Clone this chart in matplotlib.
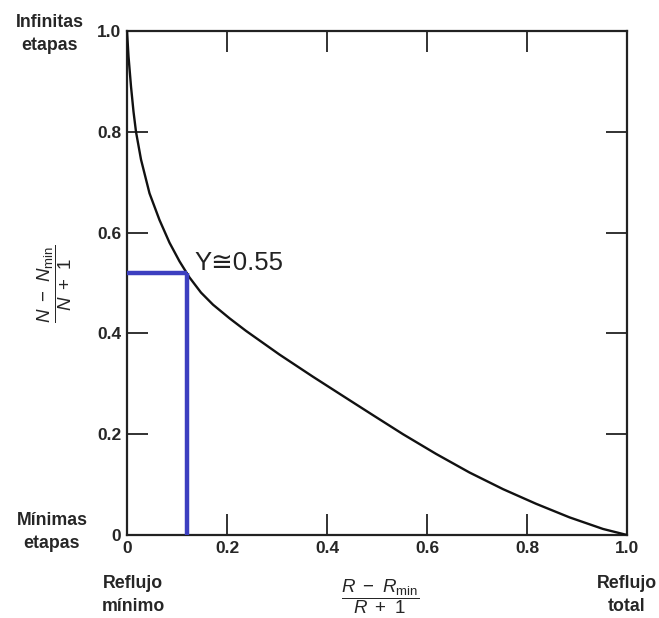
import matplotlib
matplotlib.use("Agg")
import matplotlib.pyplot as plt

plt.rcParams['font.family'] = ['Liberation Sans', 'DejaVu Sans']
plt.rcParams['mathtext.fontset'] = 'custom'
plt.rcParams['mathtext.rm'] = 'Liberation Sans'
plt.rcParams['mathtext.it'] = 'Liberation Sans:italic'

# curve: X = (R-Rmin)/(R+1), Y = (N-Nmin)/(N+1)
curve_x = [0.0, 0.003, 0.008, 0.013, 0.018, 0.028, 0.045, 0.065, 0.085, 0.105,
           0.125, 0.148, 0.172, 0.205, 0.238, 0.305, 0.372, 0.438, 0.49, 0.552,
           0.618, 0.685, 0.752, 0.818, 0.885, 0.952, 1.0]
curve_y = [1.0, 0.95, 0.89, 0.84, 0.80, 0.745, 0.678, 0.625, 0.58, 0.543,
           0.511, 0.481, 0.457, 0.430, 0.405, 0.358, 0.314, 0.272, 0.239, 0.200,
           0.161, 0.124, 0.091, 0.062, 0.035, 0.012, 0.0]

# operating point marked in blue
mark_x = 0.12
mark_y = 0.52
mark_text = "Y\u22450.55"

ticks = [0, 0.2, 0.4, 0.6, 0.8, 1.0]
tick_labels = ["0", "0.2", "0.4", "0.6", "0.8", "1.0"]

txt = '#262626'
blue = '#3c3fc0'

fig = plt.figure(figsize=(6.59, 6.18), dpi=100)
ax = fig.add_axes([127/659, 1 - 535/618, 500/659, 504/618])

ax.plot(curve_x, curve_y, color='#111111', lw=1.7, zorder=3,
        solid_joinstyle='round')
ax.plot([0, mark_x], [mark_y, mark_y], color=blue, lw=3.2, solid_capstyle='butt', zorder=4)
ax.plot([mark_x, mark_x], [0, mark_y], color=blue, lw=3.2, solid_capstyle='butt', zorder=4)
ax.text(mark_x + 0.014, mark_y + 0.02, mark_text, fontsize=18.5, color='#222222',
        ha='left', va='center', family=['Liberation Sans', 'DejaVu Sans'])

ax.set_xlim(0, 1)
ax.set_ylim(0, 1)
ax.set_xticks(ticks)
ax.set_yticks(ticks)
ax.set_xticklabels(tick_labels, fontsize=12.5, fontweight='bold', color=txt)
ax.set_yticklabels(tick_labels, fontsize=12.5, fontweight='bold', color=txt)
ax.tick_params(direction='in', length=15, width=1.3, top=True, right=True,
               labeltop=False, labelright=False, pad=4, color='#222222')
for s in ax.spines.values():
    s.set_linewidth(1.6)
    s.set_color('#222222')

# corner labels
corner = dict(ha='center', va='center', fontsize=12.8, fontweight='bold',
              color=txt, linespacing=1.45)
fig.text(50/659, 1 - 34/618, "Infinitas\netapas", **corner)
fig.text(52/659, 1 - 532/618, "Mínimas\netapas", **corner)
fig.text(133/659, 1 - 595/618, "Reflujo\nmínimo", **corner)
fig.text(627/659, 1 - 595/618, "Reflujo\ntotal", **corner)

# axis fractions
fig.text(380/659, 1 - 597/618, r"$\dfrac{R\ -\ R_{\mathrm{min}}}{R\ +\ 1}$",
         ha='center', va='center', fontsize=13.5, color=txt)
fig.text(55/659, 1 - 284/618, r"$\dfrac{N\ -\ N_{\mathrm{min}}}{N\ +\ 1}$",
         ha='center', va='center', fontsize=13.5, color=txt, rotation=90)

fig.savefig("out.png", dpi=100)
